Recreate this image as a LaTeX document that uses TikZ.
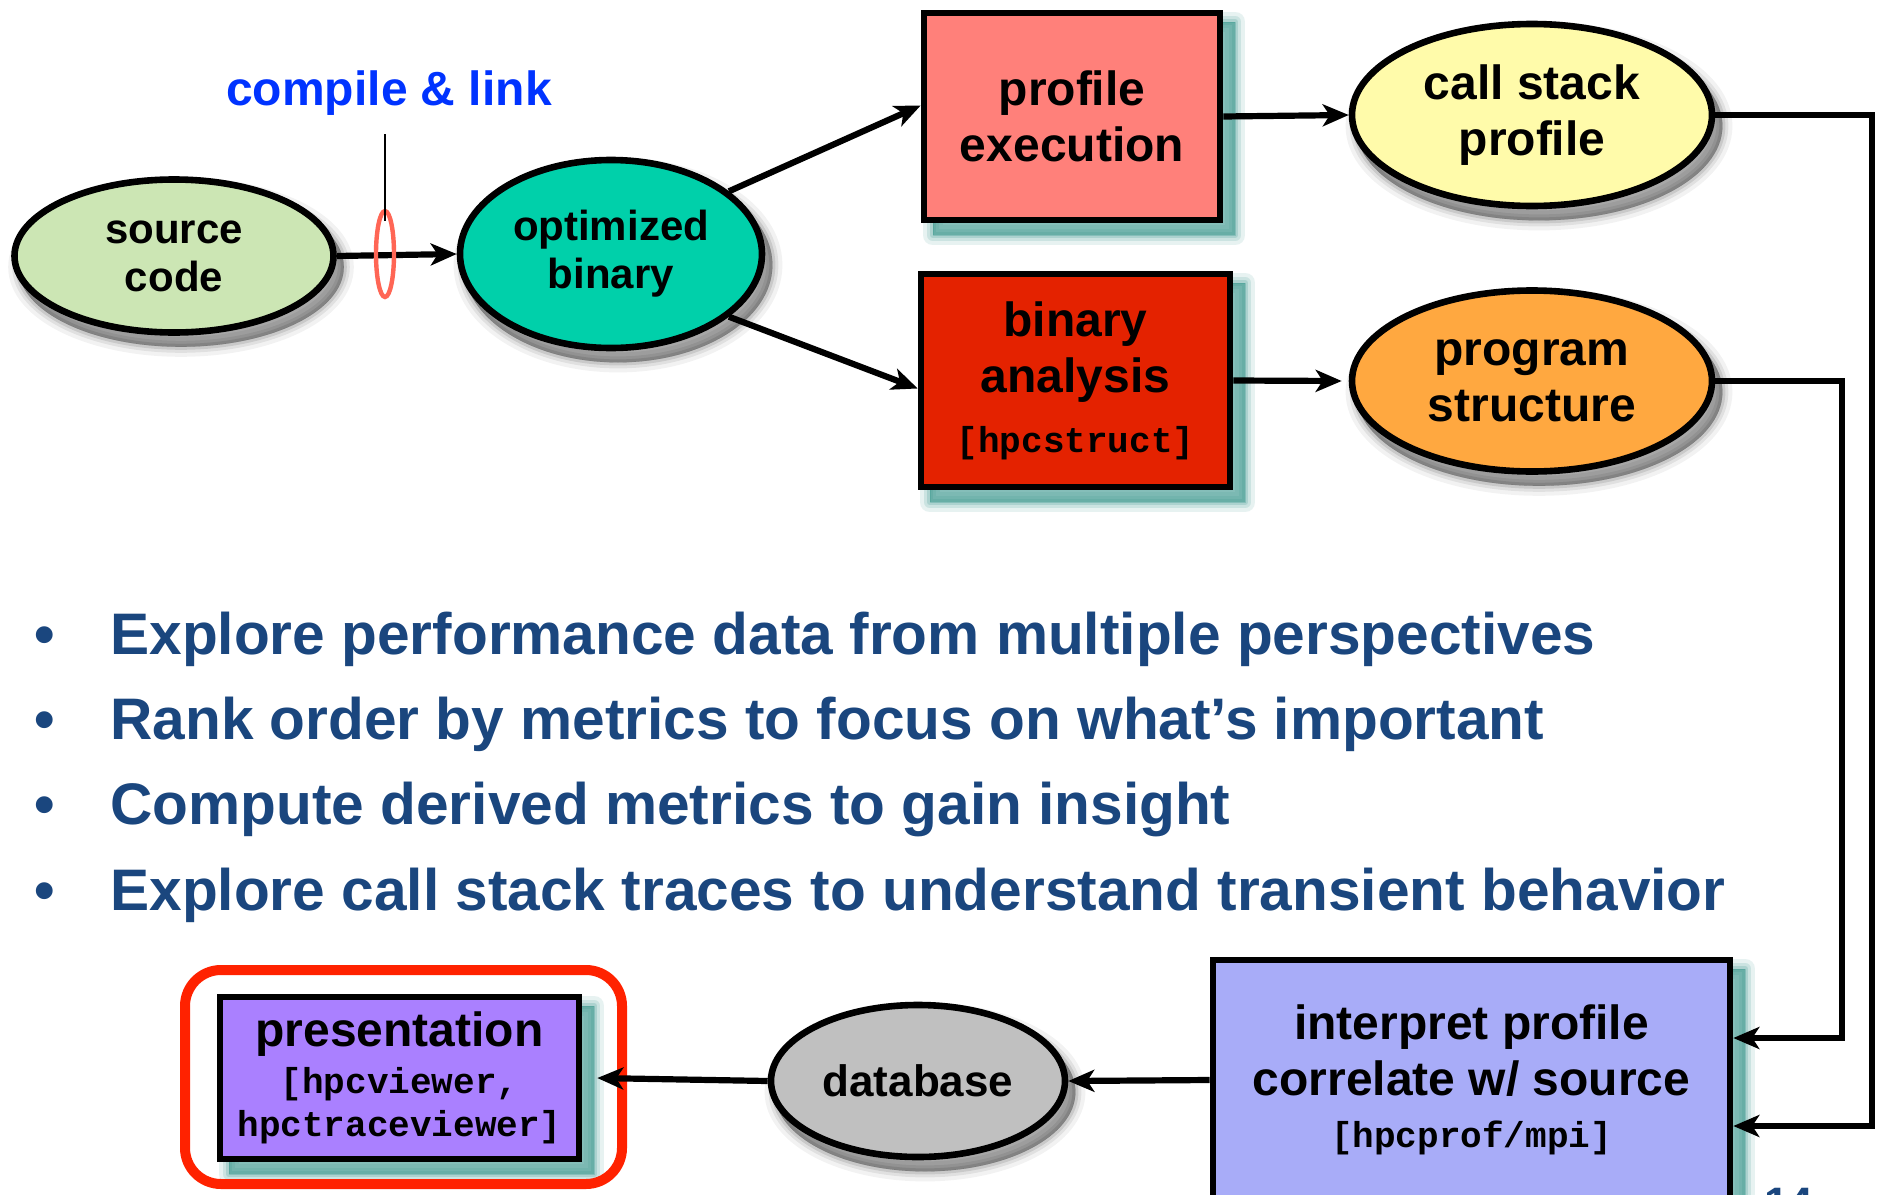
\documentclass[tikz,border=0pt]{standalone}
\usepackage{fontspec}
\setmainfont{Liberation Sans}
\setmonofont{Liberation Mono}
\usetikzlibrary{arrows.meta,backgrounds,calc,shapes.geometric}

\definecolor{srcgreen}{HTML}{CCE6B4}
\definecolor{bingreen}{HTML}{00D0AA}
\definecolor{profred}{HTML}{FF807A}
\definecolor{anared}{HTML}{E42200}
\definecolor{cspyellow}{HTML}{FFFBAA}
\definecolor{structorange}{HTML}{FFA840}
\definecolor{interpblue}{HTML}{A8ACF8}
\definecolor{dbgray}{HTML}{C0C0C0}
\definecolor{prespurple}{HTML}{AA80FF}
\definecolor{framered}{HTML}{FF2200}
\definecolor{ringred}{HTML}{FF6655}
\definecolor{linkblue}{HTML}{0033FF}
\definecolor{bulletblue}{HTML}{1A467E}
\definecolor{shteal}{HTML}{3E9A90}

\tikzset{
  base/.style={draw=black, line width=3.3pt, align=center, inner sep=0pt,
    font=\bfseries\fontsize{24}{28}\selectfont},
  oval/.style={base, ellipse},
  stepbox/.style={base, rectangle},
  arr/.style={line width=3.1pt, -{Stealth[length=13pt, width=11pt, inset=3.5pt]}},
  bullettext/.style={anchor=base west, inner sep=0pt, text=bulletblue,
    font=\bfseries\fontsize{29.3}{35}\selectfont},
  bulletdot/.style={anchor=base, inner sep=0pt, text=bulletblue,
    font=\bfseries\fontsize{29.3}{35}\selectfont},
}

% soft teal shadow below-right of a rectangular node
\newcommand\boxshade[1]{%
  \foreach \w/\o in {10/.12,6/.16,3/.22,0.1/.35}{%
    \filldraw[shteal, opacity=\o, line width=\w pt, line join=round]
      ([shift={(12,12)}]#1.south west) rectangle ([shift={(12,12)}]#1.north east);}}
% soft grey shadow below-right of an oval node: name, x radius, y radius
\newcommand\ovalshade[3]{%
  \foreach \w/\o in {10/.05,6/.07,3/.1,0.1/.17}{%
    \filldraw[black, opacity=\o, line width=\w pt]
      ([shift={(7,11)}]#1.center) ellipse [x radius=#2, y radius=#3];}}

\newcommand\mono{\ttfamily\bfseries\fontsize{18}{21}\selectfont}

\begin{document}
\begin{tikzpicture}[x=0.5pt, y=-0.5pt]
\useasboundingbox (0,0) rectangle (1879,1194);
\clip (0,0) rectangle (1879,1194);

% ---- build chain ----
\node[oval, fill=srcgreen, minimum width=159.5pt, minimum height=76.5pt,
  font=\bfseries\fontsize{21}{24}\selectfont] (src) at (174,256) {source\\code};
\node[oval, fill=bingreen, minimum width=151pt, minimum height=94pt,
  font=\bfseries\fontsize{21}{24}\selectfont] (opt) at (611,254) {optimized\\binary};

\node[stepbox, fill=profred, minimum width=148pt, minimum height=103.5pt]
  (pe) at (1072,116.5) {profile\\execution};
\node[stepbox, fill=anared, minimum width=154.5pt, minimum height=106.5pt]
  (ba) at (1075.5,380.5) {binary\\analysis\\[2pt]{\mono [hpcstruct]}};

\node[oval, fill=cspyellow, minimum width=180pt, minimum height=91pt]
  (cs) at (1532,115) {call stack\\profile};
\node[oval, fill=structorange, minimum width=180pt, minimum height=90.5pt]
  (ps) at (1532,381) {program\\structure};

\node[stepbox, fill=interpblue, minimum width=258.5pt, minimum height=120pt]
  (interp) at (1471.5,1080) {interpret profile\\correlate w/ source\\[-2pt]{\mono [hpcprof/mpi]}};
\node[oval, fill=dbgray, minimum width=147pt, minimum height=76pt,
  font=\bfseries\fontsize{22}{26}\selectfont] (db) at (918,1081) {database};

\node[draw=framered, line width=5pt, rounded corners=18pt, minimum width=218.5pt,
  minimum height=107pt, inner sep=0pt] (focus) at (403.5,1077) {};
\node[stepbox, fill=prespurple, minimum width=179.5pt, minimum height=81pt]
  (pres) at (399.5,1078) {presentation\\[-4.5pt]{\mono [hpcviewer,}\\[-6.5pt]{\mono hpctraceviewer]}};

% ---- page background and shadows ----
\begin{pgfonlayer}{background}
  \fill[white] (0,0) rectangle (1879,1194);
  \boxshade{pe}
  \boxshade{ba}
  \boxshade{interp}
  \boxshade{pres}
  \ovalshade{src}{81.4pt}{39.9pt}
  \ovalshade{opt}{77.2pt}{48.7pt}
  \ovalshade{cs}{91.7pt}{47.2pt}
  \ovalshade{ps}{91.7pt}{46.9pt}
  \ovalshade{db}{75.2pt}{39.7pt}
\end{pgfonlayer}

% ---- compile & link marker ----
\node[anchor=base, inner sep=0pt, text=linkblue, font=\bfseries\fontsize{24}{28}\selectfont]
  (cl) at (389,105) {compile \& link};
\draw[arr] (src.east) -- (opt.west);
\node[ellipse, draw=ringred, line width=2.2pt, minimum width=9pt, minimum height=43pt,
  inner sep=0pt] (linkring) at (385,254) {};
\draw[line width=1.4pt] ([yshift=-6pt]linkring.north) -- ++(0,-87);

% ---- connectors ----
\draw[arr] (opt.28) -- ([yshift=5.5pt]pe.west);
\draw[arr] (opt.-28) -- ([yshift=-4pt]ba.west);
\draw[arr] (pe.east) -- (cs.west);
\draw[arr] (ba.east) -- ([xshift=-3.5pt]ps.west);
\draw[arr] (cs.east) -- ++(157,0) |- ([yshift=-23pt]interp.east);
\draw[arr] (ps.east) -- ++(127,0) |- ([yshift=21pt]interp.east);
\draw[arr] (interp.west) -- (db.east);
\draw[arr] (db.west) -- ([xshift=7.5pt]pres.east);

% ---- bullet list ----
\node[bulletdot] (d1) at (45,654) {•};
\node[bulletdot] (d2) at (45,739) {•};
\node[bulletdot] (d3) at (45,824) {•};
\node[bulletdot] (d4) at (45,910) {•};
\node[bullettext] (b1) at (110,654) {Explore performance data from multiple perspectives};
\node[bullettext] (b2) at (110,739) {Rank order by metrics to focus on what’s important};
\node[bullettext] (b3) at (110,824) {Compute derived metrics to gain insight};
\node[bullettext] (b4) at (110,910) {Explore call stack traces to understand transient behavior};

% ---- slide number ----
\node[anchor=north west, inner sep=0pt, text=bulletblue, font=\bfseries\fontsize{22}{26}\selectfont]
  (pageno) at (1764,1188) {14};
\end{tikzpicture}
\end{document}
